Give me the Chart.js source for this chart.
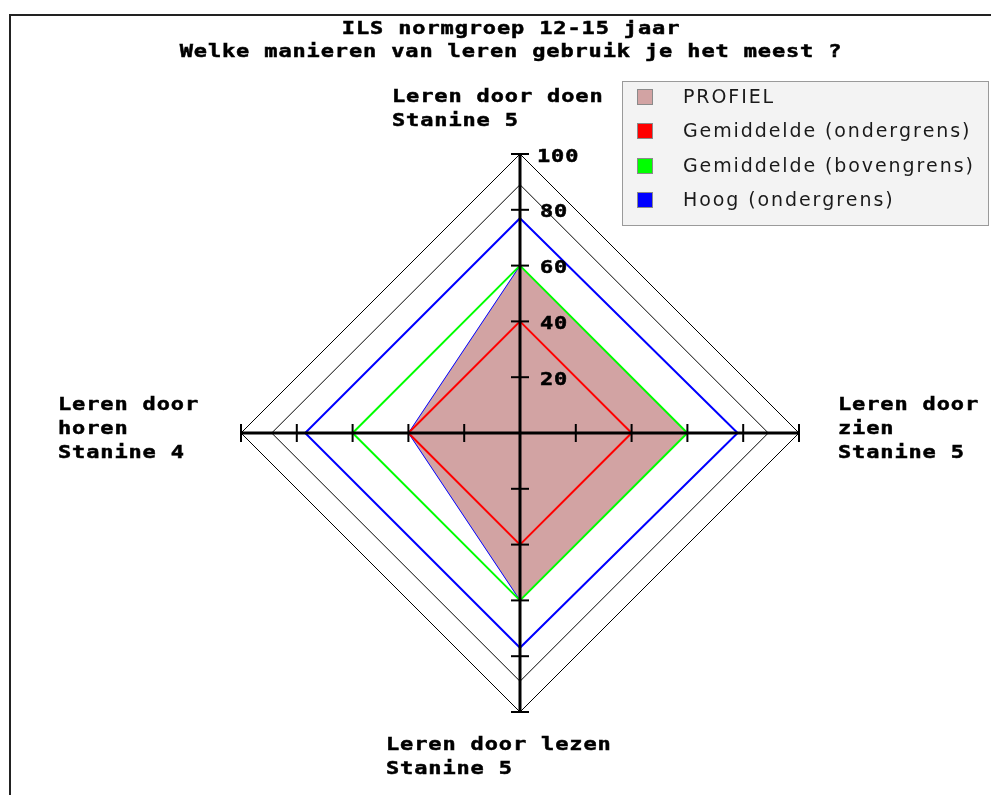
<!DOCTYPE html>
<html><head><meta charset="utf-8">
<script src="https://cdn.jsdelivr.net/npm/chart.js@4/dist/chart.umd.min.js"></script>
<style>html,body{margin:0;padding:0;background:#fff;overflow:hidden}canvas{display:block}</style>
</head><body>
<canvas id="c" width="991" height="795"></canvas>
<script>
// ---- data ----
const titleLines = ['ILS normgroep 12-15 jaar', 'Welke manieren van leren gebruik je het meest ?'];
const categories = ['Leren door doen', 'Leren door zien', 'Leren door lezen', 'Leren door horen'];
const categoryLabelLines = [
  ['Leren door doen', 'Stanine 5'],
  ['Leren door', 'zien', 'Stanine 5'],
  ['Leren door lezen', 'Stanine 5'],
  ['Leren door', 'horen', 'Stanine 4']
];
const seriesNames = ['PROFIEL', 'Gemiddelde (ondergrens)', 'Gemiddelde (bovengrens)', 'Hoog (ondergrens)'];
const profiel = [60, 60, 60, 40];
const gemiddeldeOnder = [40, 40, 40, 40];
const gemiddeldeBoven = [60, 60, 60, 60];
const hoogOnder = [77, 78, 77, 77];
const gridValues = [0, 89, 100];
const axisTicks = [20, 40, 60, 80, 100];
const axisTickLabels = ['20', '40', '60', '80', '100'];

// ---- styling ----
const seriesFill = ['#d2a3a3', '#ff0000', '#00ff00', '#0000ff'];
const MONO = 'bold 18px "DejaVu Sans Mono", "Liberation Mono", monospace';
const MONO_ADV = 14.1;
const MONO_SX = 1.22;

function drawMono(ctx, text, x, y) {
  ctx.save();
  ctx.font = MONO;
  ctx.fillStyle = '#000';
  ctx.strokeStyle = '#000';
  ctx.lineWidth = 0.5;
  ctx.textAlign = 'left';
  ctx.textBaseline = 'middle';
  for (let i = 0; i < text.length; i++) {
    ctx.save();
    ctx.translate(x + i * MONO_ADV, y);
    ctx.scale(MONO_SX, 1);
    ctx.fillText(text[i], 0, 0);
    ctx.strokeText(text[i], 0, 0);
    ctx.restore();
  }
  ctx.restore();
}
function drawSpaced(ctx, text, x, y, sp) {
  let cx = x;
  for (const ch of text) { ctx.fillText(ch, cx, y); cx += ctx.measureText(ch).width + sp; }
}

const decor = {
  id: 'decor',
  beforeDraw(chart) {
    const ctx = chart.ctx;
    ctx.save();
    ctx.fillStyle = '#fff';
    ctx.fillRect(0, 0, chart.width, chart.height);
    ctx.strokeStyle = '#222';
    ctx.lineWidth = 2;
    ctx.beginPath();
    ctx.moveTo(10, chart.height + 2);
    ctx.lineTo(10, 15);
    ctx.lineTo(chart.width + 2, 15);
    ctx.stroke();
    ctx.restore();
  },
  afterDraw(chart) {
    const ctx = chart.ctx;
    const s = chart.scales.r;
    ctx.save();
    // axes (on top of the data)
    ctx.strokeStyle = '#000';
    ctx.lineWidth = 3;
    for (let i = 0; i < categories.length; i++) {
      const p = s.getPointPositionForValue(i, s.max);
      ctx.beginPath();
      ctx.moveTo(s.xCenter, s.yCenter);
      ctx.lineTo(p.x, p.y);
      ctx.stroke();
    }
    // axis tick marks
    ctx.lineWidth = 2;
    for (let i = 0; i < categories.length; i++) {
      const a = s.getIndexAngle(i) - Math.PI / 2;
      const px = -Math.sin(a), py = Math.cos(a);
      axisTicks.forEach(v => {
        const p = s.getPointPositionForValue(i, v);
        ctx.beginPath();
        ctx.moveTo(p.x - 9 * px, p.y - 9 * py);
        ctx.lineTo(p.x + 9 * px, p.y + 9 * py);
        ctx.stroke();
      });
    }
    // tick labels on top axis
    axisTicks.forEach((v, k) => {
      const p = s.getPointPositionForValue(0, v);
      drawMono(ctx, axisTickLabels[k], s.xCenter + (axisTickLabels[k].length > 2 ? 17 : 20), p.y + 3);
    });
    // category labels
    const outer = i => s.getPointPositionForValue(i, 100);
    const place = [
      i => ({x: s.xCenter - 128, y: outer(i).y - 57}),
      i => ({x: outer(i).x + 39, y: s.yCenter - 28}),
      i => ({x: s.xCenter - 134, y: outer(i).y + 33}),
      i => ({x: outer(i).x - 183, y: s.yCenter - 28})
    ];
    categoryLabelLines.forEach((lines, i) => {
      const o = place[i](i);
      lines.forEach((t, k) => drawMono(ctx, t, o.x, o.y + k * 24));
    });
    // title
    titleLines.forEach((t, k) => {
      const w = (t.length - 1) * MONO_ADV + 12;
      drawMono(ctx, t, 510 - w / 2, 29 + k * 23);
    });
    // legend
    ctx.fillStyle = '#f3f3f3';
    ctx.fillRect(622, 81, 367, 145);
    ctx.strokeStyle = '#9a9a9a';
    ctx.lineWidth = 1;
    ctx.strokeRect(622.5, 81.5, 366, 144);
    chart.data.datasets.slice(0, 4).forEach((ds, k) => {
      const cy = 97 + k * 34.4;
      ctx.fillStyle = seriesFill[k];
      ctx.fillRect(637, Math.round(cy) - 8, 16, 16);
      ctx.strokeStyle = '#8a8a8a';
      ctx.strokeRect(637.5, Math.round(cy) - 7.5, 15, 15);
      ctx.fillStyle = '#1a1a1a';
      ctx.font = '19px "DejaVu Sans", Verdana, sans-serif';
      ctx.textBaseline = 'middle';
      ctx.textAlign = 'left';
      drawSpaced(ctx, ds.label, 683, cy + 1, 1.9);
    });
    ctx.restore();
  }
};

new Chart(document.getElementById('c'), {
  type: 'radar',
  data: {
    labels: categories,
    datasets: [
      {label: seriesNames[0], data: profiel, backgroundColor: seriesFill[0], borderColor: '#0000ff', borderWidth: 1, fill: true, order: 10, pointRadius: 0},
      {label: seriesNames[1], data: gemiddeldeOnder, backgroundColor: seriesFill[1], borderColor: seriesFill[1], borderWidth: 2, fill: false, order: 3, pointRadius: 0},
      {label: seriesNames[2], data: gemiddeldeBoven, backgroundColor: seriesFill[2], borderColor: seriesFill[2], borderWidth: 2, fill: false, order: 2, pointRadius: 0},
      {label: seriesNames[3], data: hoogOnder, backgroundColor: seriesFill[3], borderColor: seriesFill[3], borderWidth: 2, fill: false, order: 1, pointRadius: 0}
    ]
  },
  options: {
    responsive: false,
    animation: false,
    events: [],
    layout: {padding: {left: 241, right: 192, top: 154, bottom: 83}},
    elements: {line: {tension: 0, borderJoinStyle: 'miter'}},
    plugins: {legend: {display: false}, title: {display: false}, tooltip: {enabled: false}},
    scales: {
      r: {
        min: 0, max: 100,
        ticks: {display: false},
        pointLabels: {display: false},
        grid: {color: '#000', lineWidth: 1},
        angleLines: {display: false},
        afterBuildTicks: sc => { sc.ticks = gridValues.map(v => ({value: v})); }
      }
    }
  },
  plugins: [decor]
});
</script>
</body></html>
